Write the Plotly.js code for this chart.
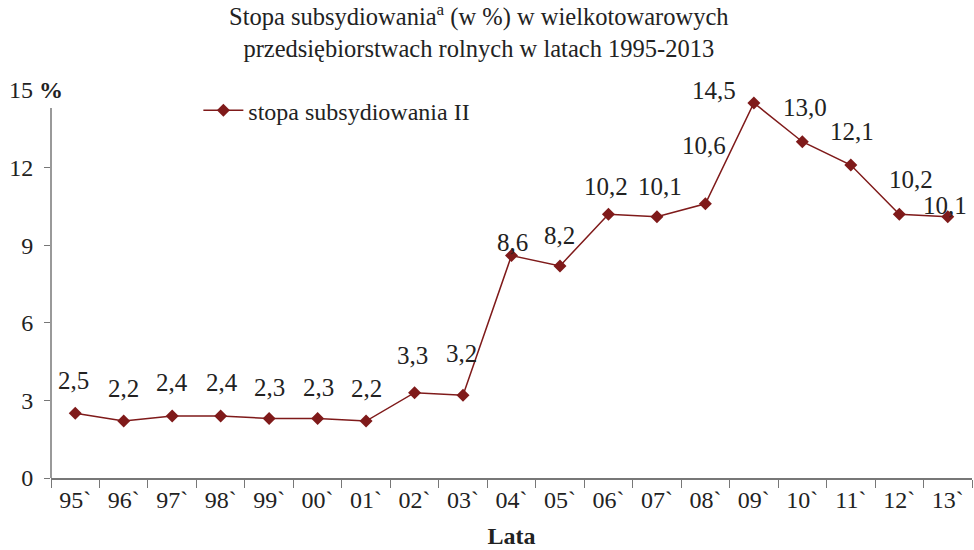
<!DOCTYPE html>
<html>
<head>
<meta charset="utf-8">
<script src="https://cdn.plot.ly/plotly-3.0.1.min.js"></script>
<style>html,body{margin:0;padding:0;background:#fff;}#chart{width:974px;height:550px;}</style>
</head>
<body>
<div id="chart"></div>
<script>
const categories = ["95`","96`","97`","98`","99`","00`","01`","02`","03`","04`","05`","06`","07`","08`","09`","10`","11`","12`","13`"];
const values = [2.5, 2.2, 2.4, 2.4, 2.3, 2.3, 2.2, 3.3, 3.2, 8.6, 8.2, 10.2, 10.1, 10.6, 14.5, 13.0, 12.1, 10.2, 10.1];
const seriesName = "stopa subsydiowania II";
const yTicks = [0, 3, 6, 9, 12];

// label placement tweaks (style only)
const labelDx = [-2,0,0,1,0,1,0,-2,-2,1,0,-2,3,-1,-40,3,1,12,-3];
const labelDy = [33,33,33,33,31,31,33,37,42,13,30,28,30,58,12,34,34,35,11];

const FONT = "'Liberation Serif', 'Times New Roman', serif";
const RED = "#7f1a1a";
const AX = "#777";
const TXT = "#222";
const yMax = 15;

const annotations = values.map((v, i) => ({
  x: categories[i], y: v, xref: "x", yref: "y",
  text: v.toFixed(1).replace(".", ","),
  showarrow: false, xshift: labelDx[i], yshift: labelDy[i],
  font: {family: FONT, size: 25, color: TXT}
}));
annotations.push({
  xref: "paper", yref: "y", x: -0.048, y: 15, xanchor: "left", yanchor: "middle",
  text: "15 <b>%</b>", showarrow: false,
  font: {family: FONT, size: 24, color: TXT}
});
annotations.push({
  xref: "paper", yref: "paper", x: 0.465, y: 1.238, xanchor: "center", yanchor: "top",
  text: "Stopa subsydiowania<sup>a</sup> (w %) w wielkotowarowych<br>przedsiębiorstwach rolnych w latach 1995-2013",
  showarrow: false, font: {family: FONT, size: 24.5, color: TXT}
});

const trace = {
  x: categories, y: values, name: seriesName, type: "scatter", mode: "lines+markers",
  line: {color: RED, width: 1.5},
  marker: {symbol: "diamond", size: 10, color: RED},
  cliponaxis: false
};

const layout = {
  width: 974, height: 550,
  margin: {l: 51, r: 2, t: 90, b: 72},
  paper_bgcolor: "#fff", plot_bgcolor: "#fff",
  font: {family: FONT, size: 24, color: TXT},
  xaxis: {
    type: "category", tickson: "boundaries", ticks: "outside", ticklen: 8, tickcolor: AX,
    showline: true, linecolor: AX, linewidth: 1.5, showgrid: false, zeroline: false,
    tickfont: {family: FONT, size: 24, color: TXT},
    title: {text: "<b>Lata</b>", font: {family: FONT, size: 24, color: TXT}, standoff: 15},
    range: [-0.5, categories.length - 0.5]
  },
  yaxis: {
    range: [0, yMax], tickvals: yTicks, ticktext: yTicks.map(String),
    ticks: "outside", ticklen: 6, tickcolor: AX, ticklabelstandoff: 6,
    showline: false, showgrid: false, zeroline: false,
    tickfont: {family: FONT, size: 24, color: TXT}
  },
  shapes: [{type: "line", xref: "paper", yref: "y", x0: 0, x1: 0, y0: 0, y1: 14.3,
            line: {color: AX, width: 1.5}}],
  showlegend: true,
  legend: {
    x: 0.16, y: 1.005, xanchor: "left", yanchor: "top", bgcolor: "rgba(0,0,0,0)",
    itemwidth: 40,
    font: {family: FONT, size: 24, color: TXT}
  },
  annotations: annotations
};

Plotly.newPlot("chart", [trace], layout, {displayModeBar: false, staticPlot: true});
</script>
</body>
</html>
